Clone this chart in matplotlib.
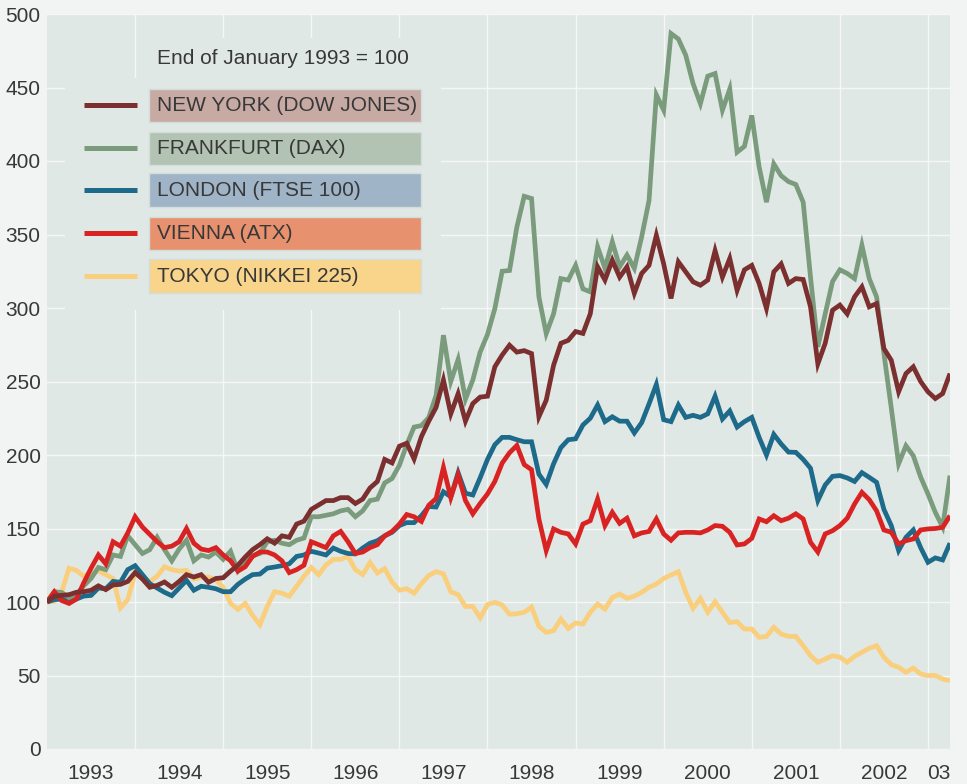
import matplotlib
matplotlib.use("Agg")
import matplotlib.pyplot as plt
from matplotlib.patches import Rectangle

# monthly index values, end of January 1993 = 100 (Jan 1993 .. Apr 2003)
new_york = [
    100, 104, 104.5, 105, 106.6, 107, 108, 111, 108.4, 111.6, 112, 114,
    120, 115.6, 110, 111.3, 113.6, 110, 114, 118.6, 117, 118.6, 113.4, 116,
    116.5, 121, 125, 130.6, 135.6, 139, 143, 140, 145, 144, 153, 155,
    163, 166, 169, 169, 171, 171, 167, 170, 177.6, 182, 197, 194.6,
    206, 208, 197.3, 212.5, 223, 232.4, 251, 228, 241.7, 223, 235, 239.4,
    240, 260, 268, 274.7, 270, 271, 269, 226, 237.3, 261, 276, 278,
    284, 282.7, 296, 328, 319, 332.5, 321, 328, 310, 323.5, 329, 349.5,
    330, 306.5, 331.4, 324.6, 317.8, 315.5, 319, 339, 321, 333.7, 312, 326,
    329, 316.7, 299.7, 324.6, 330, 316.7, 320, 319.4, 300.8, 262, 276, 298.5,
    302, 296, 307.6, 314.4, 300.8, 303, 272.4, 264.5, 243, 255.4, 260, 250,
    243, 238.4, 241.8, 255.4,
]
frankfurt = [
    100, 107, 106.5, 103, 105, 111, 116, 123.5, 122, 132, 131, 145,
    139, 133, 135.6, 144, 135.6, 128, 136, 142, 128, 132, 130.6, 134,
    129, 134.5, 121, 126.5, 131.5, 133, 141, 142, 140, 139, 142, 143.5,
    158, 158, 159, 160, 162, 163, 158, 162, 169, 170, 181, 184,
    193, 207, 219, 220, 225.5, 240.6, 281.5, 250, 265, 238, 251, 270,
    282, 299.6, 325, 325.5, 355, 376, 374.5, 307.6, 282.6, 296, 320, 319,
    329, 313, 311, 341.6, 327, 345, 328, 336, 327, 348.4, 373, 445,
    434.6, 486.7, 483, 472, 452.7, 439, 457.7, 459.5, 434.6, 449, 406, 410,
    431, 396, 372, 398, 390, 386, 384, 372, 321, 273.6, 296, 318,
    326, 323.5, 320, 342.7, 320, 307.6, 269, 232, 194, 206.3, 199.5, 185,
    173.5, 161, 151, 186,
]
london = [
    100, 101.6, 102, 100.5, 102, 104, 104.5, 109.5, 109, 114, 113.4, 122,
    124.7, 118.6, 112.5, 109.5, 106.6, 104.3, 109.5, 114.7, 108, 110.7, 110, 109,
    107, 107, 112, 115.6, 118.6, 119, 123, 123.8, 124.7, 126, 131, 132,
    134.5, 133.3, 132, 136.7, 134.5, 133, 132.7, 136.7, 140, 141.7, 145, 147.4,
    152, 154, 154, 158.7, 165, 164.6, 175, 171.6, 188, 174, 172.8, 184.5,
    197, 207, 212, 212, 210.4, 209, 209, 187, 180, 194, 205, 210.4,
    211, 220.4, 225, 234, 222.7, 226, 223, 223, 215, 222, 234.7, 248,
    224, 222.7, 234, 225.6, 227, 225.6, 228, 240, 224.5, 230, 219, 222.7,
    225.6, 212, 200, 214, 207.5, 202, 201.8, 197, 191, 169, 179.6, 185.5,
    186, 184.4, 182, 188, 184.8, 181.4, 163, 152, 135, 144, 149, 137,
    127, 130, 128.6, 140,
]
vienna = [
    100, 107, 101, 99, 102, 113, 123, 132, 126, 141, 138, 147,
    158, 151, 146, 141, 137, 138, 141, 150, 140, 136, 135, 137,
    132, 128, 121, 124, 131, 134, 134, 132, 128, 120, 122, 125,
    141, 139, 137, 145, 148, 141, 133, 134, 137, 139, 145, 148,
    153, 159.5, 158, 154.8, 165.8, 170.4, 191.5, 171, 186.5, 169, 160, 167,
    173.5, 182, 194.5, 201.5, 206.5, 193.5, 190, 156.5, 135, 149.7, 147.4, 146.3,
    139.5, 153, 155.3, 170, 152, 161, 153.5, 157, 145, 147, 148, 156.5,
    146.3, 142, 147, 147.4, 147.4, 147, 149, 152, 151.5, 147.4, 138.8, 139.5,
    143.3, 156.5, 154.6, 158.7, 155.3, 157, 160, 156.5, 140.6, 134, 146.3, 148.5,
    152, 157, 166.7, 174.6, 169.6, 162, 149, 147.4, 139.5, 141.7, 142.9, 149,
    149.7, 150, 150.8, 158.7,
]
tokyo = [
    100, 100.5, 107, 123, 121.5, 117.5, 120, 121, 118.6, 116, 96, 101.6,
    119.7, 116, 114, 117.5, 124, 122, 121, 121.5, 115.6, 116.8, 117, 115,
    110, 99, 95, 99, 91, 84.5, 97, 107, 106, 104, 110.7, 117.5,
    123.5, 118.6, 125.2, 129, 129, 131, 122, 118.6, 126.8, 119.7, 122.7, 113.5,
    108, 109, 106, 112.5, 118, 120.7, 119.2, 107, 105, 97, 97, 89.3,
    98.3, 99.8, 98, 91.7, 92, 93, 96.6, 83.4, 79.4, 80.5, 88.4, 82,
    85.7, 85, 93, 98.6, 95.2, 103, 105.4, 102.5, 103.9, 106.6, 110, 112.2,
    116, 118.4, 120.6, 106.6, 95.7, 102.5, 93, 100.2, 93, 86, 86.6, 81.6,
    81.6, 76, 76.6, 82.8, 78.2, 76.6, 76.6, 70.3, 63.5, 59, 61.2, 63.5,
    62.4, 59, 63, 65.8, 68.5, 70.3, 62.4, 57.4, 55.6, 52.2, 55, 51,
    50, 50, 47.6, 46.5,
]

labels = ["NEW YORK (DOW JONES)", "FRANKFURT (DAX)", "LONDON (FTSE 100)",
          "VIENNA (ATX)", "TOKYO (NIKKEI 225)"]
line_colors = ["#7b2f2f", "#7a9b7c", "#1d6a8a", "#d92323", "#f9cf7d"]
box_colors = ["#c8aaa5", "#b3c3b3", "#a0b4c8", "#e8916f", "#f9d48b"]
year_labels = ["1993", "1994", "1995", "1996", "1997", "1998", "1999",
               "2000", "2001", "2002", "03"]

plt.rcParams["font.family"] = ["Liberation Sans", "DejaVu Sans"]
txt = "#383838"
plot_bg = "#e0e8e5"

fig = plt.figure(figsize=(9.67, 7.84), dpi=100, facecolor="#f2f4f3")
ax = fig.add_axes([47 / 967, 1 - 749 / 784, 903 / 967, 735 / 784])
ax.set_facecolor(plot_bg)

months = list(range(len(new_york)))
series = [new_york, frankfurt, london, vienna, tokyo]
zorders = [6, 4, 3, 5, 2]
for vals, col, z in zip(series, line_colors, zorders):
    ax.plot(months, vals, color=col, lw=3.4, zorder=z,
            solid_joinstyle="miter", solid_capstyle="butt")

ax.set_xlim(0, 123)
ax.set_ylim(0, 500)
ax.set_yticks(range(0, 501, 50))
ax.set_xticks(range(12, 121, 12))
ax.set_xticklabels([])
ax.set_xticks([6 + 12 * k for k in range(10)] + [121.5], minor=True)
ax.set_xticklabels(year_labels, minor=True)
ax.tick_params(axis="both", which="both", length=0, labelsize=15, colors=txt)
ax.tick_params(axis="y", pad=4.5)
ax.tick_params(axis="x", which="minor", pad=11)
ax.grid(True, which="major", color="#f5f7f6", lw=1.0)
ax.set_axisbelow(True)
for s in ax.spines.values():
    s.set_visible(False)

# legend area (covers the grid)
ax.add_patch(Rectangle((0.02, 0.597), 0.416, 0.316, transform=ax.transAxes,
                       facecolor=plot_bg, edgecolor="none", zorder=1))
ax.add_patch(Rectangle((0.11, 0.913), 0.305, 0.054, transform=ax.transAxes,
                       facecolor=plot_bg, edgecolor="none", zorder=1))
ax.text(0.1218, 0.940, "End of January 1993 = 100", transform=ax.transAxes,
        ha="left", va="center", fontsize=15, color=txt, zorder=7)

row_y = [0.876, 0.8175, 0.7605, 0.7015, 0.6435]
box_h = 0.045
for lab, lc, bc, yc in zip(labels, line_colors, box_colors, row_y):
    ax.plot([0.041, 0.0997], [yc, yc], transform=ax.transAxes, color=lc,
            lw=3.6, solid_capstyle="butt", zorder=7)
    ax.add_patch(Rectangle((0.113, yc - box_h / 2), 0.301, box_h,
                           transform=ax.transAxes, facecolor=bc,
                           edgecolor="#d3ddd9", lw=1.0, zorder=7))
    ax.text(0.1219, yc, lab, transform=ax.transAxes, ha="left", va="center",
            fontsize=15, color=txt, zorder=8)

fig.savefig("out.png", dpi=100, facecolor=fig.get_facecolor())
